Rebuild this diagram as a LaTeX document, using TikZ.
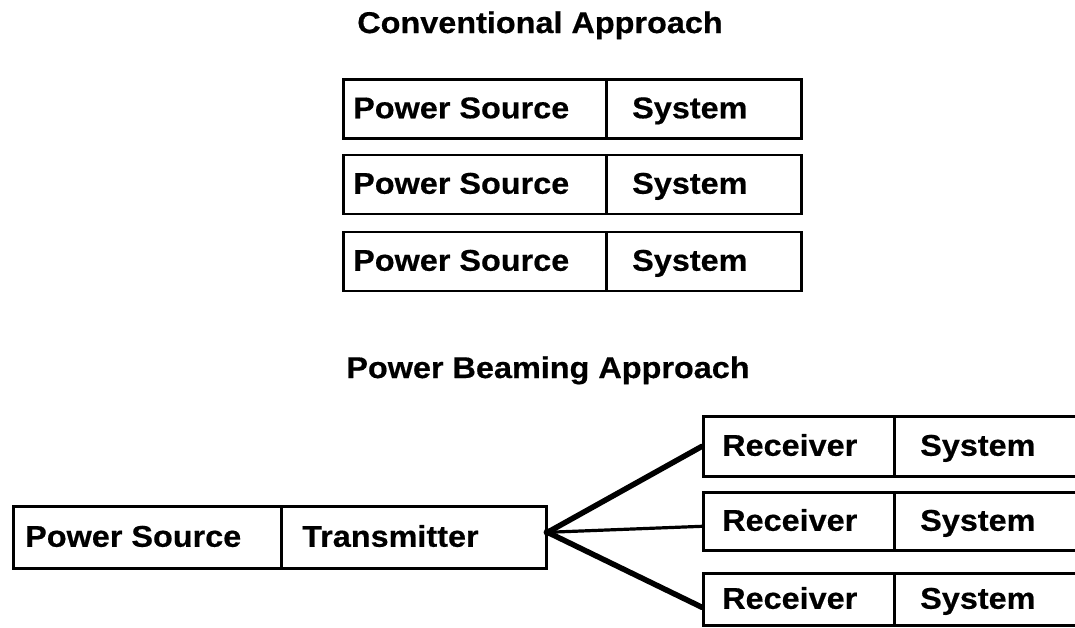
\documentclass[tikz,border=0pt]{standalone}
\usepackage{fontspec}
\setmainfont{Liberation Sans}[FakeStretch=1.08, BoldFeatures={FakeBold=0.5}]
\begin{document}
\begin{tikzpicture}[x=1pt,y=-1pt,
  cell/.style={draw, line width=2.6pt, inner sep=0pt, anchor=north west},
  lbl/.style={anchor=west, inner sep=0pt, text height=21.5pt, text depth=0pt,
    font=\fontsize{30}{36}\selectfont\bfseries},
  ttl/.style={anchor=base, inner sep=0pt, font=\fontsize{30}{36}\selectfont\bfseries},
  beam/.style={line width=5.5pt, line cap=round},
  beamthin/.style={line width=3.2pt}]
\useasboundingbox (0,0) rectangle (1075,627);
\fill[white] (0,0) rectangle (1075,627);
\clip (0,0) rectangle (1075,627);

% titles
\node[ttl] (h1) at (540,33) {Conventional Approach};
\node[ttl] (h2) at (548,378) {Power Beaming Approach};

% conventional rows
\node[cell, minimum width=263pt, minimum height=59pt] (c1p) at (342,78) {};
\node[cell, minimum width=195pt, minimum height=59pt] (c1s) at (605,78) {};
\node[lbl] (t1p) at (353,107.5) {Power Source};
\node[lbl] (t1s) at (632,107.5) {System};

\node[cell, minimum width=263pt, minimum height=59pt] (c2p) at (342,153.5) {};
\node[cell, minimum width=195pt, minimum height=59pt] (c2s) at (605,153.5) {};
\node[lbl] (t2p) at (353,183) {Power Source};
\node[lbl] (t2s) at (632,183) {System};

\node[cell, minimum width=263pt, minimum height=59pt] (c3p) at (342,230.5) {};
\node[cell, minimum width=195pt, minimum height=59pt] (c3s) at (605,230.5) {};
\node[lbl] (t3p) at (353,260) {Power Source};
\node[lbl] (t3s) at (632,260) {System};

% power beaming: source + transmitter
\node[cell, minimum width=268pt, minimum height=62pt] (bp) at (12,505) {};
\node[cell, minimum width=265pt, minimum height=62pt] (bt) at (280,505) {};
\node[lbl] (tbp) at (25,536) {Power Source};
\node[lbl] (tbt) at (302,536) {Transmitter};

% receivers
\node[cell, minimum width=191pt, minimum height=60pt] (r1) at (702,415) {};
\node[cell, minimum width=200pt, minimum height=60pt] (r1s) at (893,415) {};
\node[lbl] (tr1) at (722,445) {Receiver};
\node[lbl] (tr1s) at (920,445) {System};

\node[cell, minimum width=191pt, minimum height=58pt] (r2) at (702,491) {};
\node[cell, minimum width=200pt, minimum height=58pt] (r2s) at (893,491) {};
\node[lbl] (tr2) at (722,520) {Receiver};
\node[lbl] (tr2s) at (920,520) {System};

\node[cell, minimum width=191pt, minimum height=52pt] (r3) at (702,572) {};
\node[cell, minimum width=200pt, minimum height=52pt] (r3s) at (893,572) {};
\node[lbl] (tr3) at (722,598) {Receiver};
\node[lbl] (tr3s) at (920,598) {System};

% beams
\coordinate (apex) at ([yshift=5pt]bt.east);
\draw[beam] (apex) -- (r1.west);
\draw[beamthin] (apex) -- ([yshift=-5pt]r2.west);
\draw[beam] (apex) -- ([yshift=-8pt]r3.west);
\fill (apex) circle (4pt);
\end{tikzpicture}
\end{document}
